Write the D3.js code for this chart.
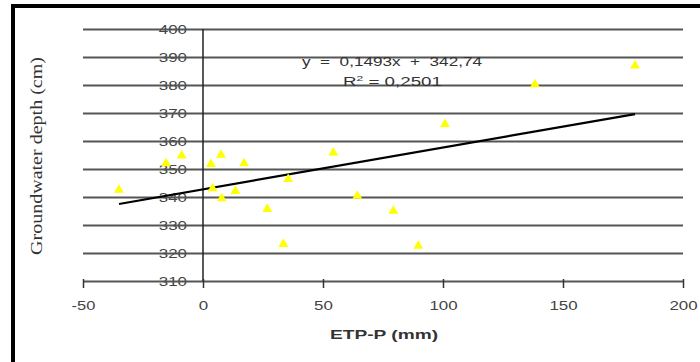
<!DOCTYPE html>
<html>
<head>
<meta charset="utf-8">
<script src="https://cdn.jsdelivr.net/npm/d3@7"></script>
<style>
  body { margin: 0; background: #fff; }
  svg { display: block; }
</style>
</head>
<body>
<div id="chart"></div>
<script>
// ETP-P (mm) vs groundwater depth (cm)
const etpP = [-35, -15.4, -8.9, 3.3, 7.5, 17.1, 4.0, 7.8, 13.5, 26.8, 54.3, 35.5, 64.3, 79.3, 33.5, 89.7, 100.8, 138.3, 180];
const depth = [342.5, 352, 354.8, 351.7, 355, 352, 343.1, 339.5, 342.1, 335.7, 355.8, 346.4, 340.4, 335, 323.2, 322.5, 366, 380.2, 386.9];

const xTicks = [-50, 0, 50, 100, 150, 200];
const yTicks = [310, 320, 330, 340, 350, 360, 370, 380, 390, 400];

// trend line from the equation shown on the chart
const slope = 0.1493;
const intercept = 342.74;
const trendRange = [-35, 180];

const width = 700;
const height = 362;

// margins so the plot area lands where the original one is
const marginLeft = 83;
const marginRight = 17;
const marginTop = 29;
const marginBottom = 81;

const sans = "Liberation Sans, Arial, sans-serif";

// the original picture is stretched sideways, so glyphs are wider than normal
const labelWidth = s => String(s).replace("-", "").length * 9.4 + (String(s).includes("-") ? 5 : 0);

const x = d3.scaleLinear()
    .domain([-50, 200])
    .range([marginLeft, width - marginRight]);

const y = d3.scaleLinear()
    .domain([310, 400])
    .range([height - marginBottom, marginTop]);

const svg = d3.select("#chart").append("svg")
    .attr("width", width)
    .attr("height", height)
    .attr("viewBox", [0, 0, width, height]);

// black frame on top and left
svg.append("rect")
    .attr("x", 11).attr("y", 4)
    .attr("width", width - 11).attr("height", 4)
    .attr("fill", "#000");
svg.append("rect")
    .attr("x", 11).attr("y", 4)
    .attr("width", 4).attr("height", height - 4)
    .attr("fill", "#000");

// y tick labels (gridlines go right through them)
svg.append("g")
    .selectAll("text")
    .data(yTicks)
    .join("text")
    .attr("x", 187)
    .attr("y", d => y(d))
    .attr("dy", "0.36em")
    .attr("text-anchor", "end")
    .attr("font-family", sans)
    .attr("font-size", "12.5px")
    .attr("fill", "#444")
    .attr("textLength", d => labelWidth(d))
    .attr("lengthAdjust", "spacingAndGlyphs")
    .text(d => d);

// horizontal gridlines
const grid = svg.append("g")
    .attr("transform", `translate(${width - marginRight},0)`)
    .call(d3.axisLeft(y).tickValues(yTicks).tickSize(width - marginLeft - marginRight).tickFormat(""));
grid.select(".domain").remove();
grid.selectAll("line")
    .attr("stroke", "#555")
    .attr("stroke-width", 2);

// vertical axis at x = 0
svg.append("line")
    .attr("x1", x(0)).attr("x2", x(0))
    .attr("y1", y(400)).attr("y2", y(310))
    .attr("stroke", "#222")
    .attr("stroke-width", 1.5);

// x axis
const xAxis = svg.append("g")
    .attr("transform", `translate(0,${y(310) - 2})`)
    .call(d3.axisBottom(x).tickValues(xTicks).tickSize(9).tickSizeOuter(0).tickFormat(d => String(d)));
xAxis.select(".domain").remove();
xAxis.selectAll("line")
    .attr("stroke", "#333")
    .attr("stroke-width", 1.5);
xAxis.selectAll("text")
    .attr("font-family", sans)
    .attr("font-size", "12.5px")
    .attr("fill", "#444")
    .attr("y", 22)
    .attr("dy", "0.71em")
    .attr("textLength", d => labelWidth(d))
    .attr("lengthAdjust", "spacingAndGlyphs");

// trend line
svg.append("line")
    .attr("x1", x(trendRange[0]))
    .attr("y1", y(slope * trendRange[0] + intercept))
    .attr("x2", x(trendRange[1]))
    .attr("y2", y(slope * trendRange[1] + intercept))
    .attr("stroke", "#000")
    .attr("stroke-width", 2.2);

// yellow triangle markers
const tri = d3.symbol().type(d3.symbolTriangle).size(42);
svg.append("g")
    .attr("fill", "#ffff00")
    .selectAll("path")
    .data(etpP.map((v, i) => [v, depth[i]]))
    .join("path")
    .attr("d", tri)
    .attr("transform", d => `translate(${x(d[0])},${y(d[1])})`);

// equation
svg.append("text")
    .attr("x", 302).attr("y", 66)
    .attr("font-family", sans)
    .attr("font-size", "12.5px")
    .attr("fill", "#333")
    .attr("textLength", 180)
    .attr("lengthAdjust", "spacingAndGlyphs")
    .attr("xml:space", "preserve")
    .text("y  =  0,1493x  +  342,74");

const r2 = svg.append("text")
    .attr("x", 343).attr("y", 86)
    .attr("font-family", sans)
    .attr("font-size", "12.5px")
    .attr("fill", "#333")
    .attr("textLength", 99)
    .attr("lengthAdjust", "spacingAndGlyphs");
r2.append("tspan").text("R");
r2.append("tspan").attr("dy", -5).attr("font-size", "8px").text("2");
r2.append("tspan").attr("dy", 5).text("  =  0,2501");

// axis titles
svg.append("text")
    .attr("x", 384).attr("y", 339)
    .attr("text-anchor", "middle")
    .attr("font-family", sans)
    .attr("font-size", "13px")
    .attr("font-weight", "bold")
    .attr("fill", "#333")
    .attr("textLength", 108)
    .attr("lengthAdjust", "spacingAndGlyphs")
    .text("ETP-P (mm)");

svg.append("text")
    .attr("transform", `translate(42,156) rotate(-90)`)
    .attr("text-anchor", "middle")
    .attr("font-family", "Liberation Serif, Times New Roman, serif")
    .attr("font-size", "17px")
    .attr("fill", "#333")
    .attr("textLength", 198)
    .attr("lengthAdjust", "spacingAndGlyphs")
    .text("Groundwater depth (cm)");
</script>
</body>
</html>
